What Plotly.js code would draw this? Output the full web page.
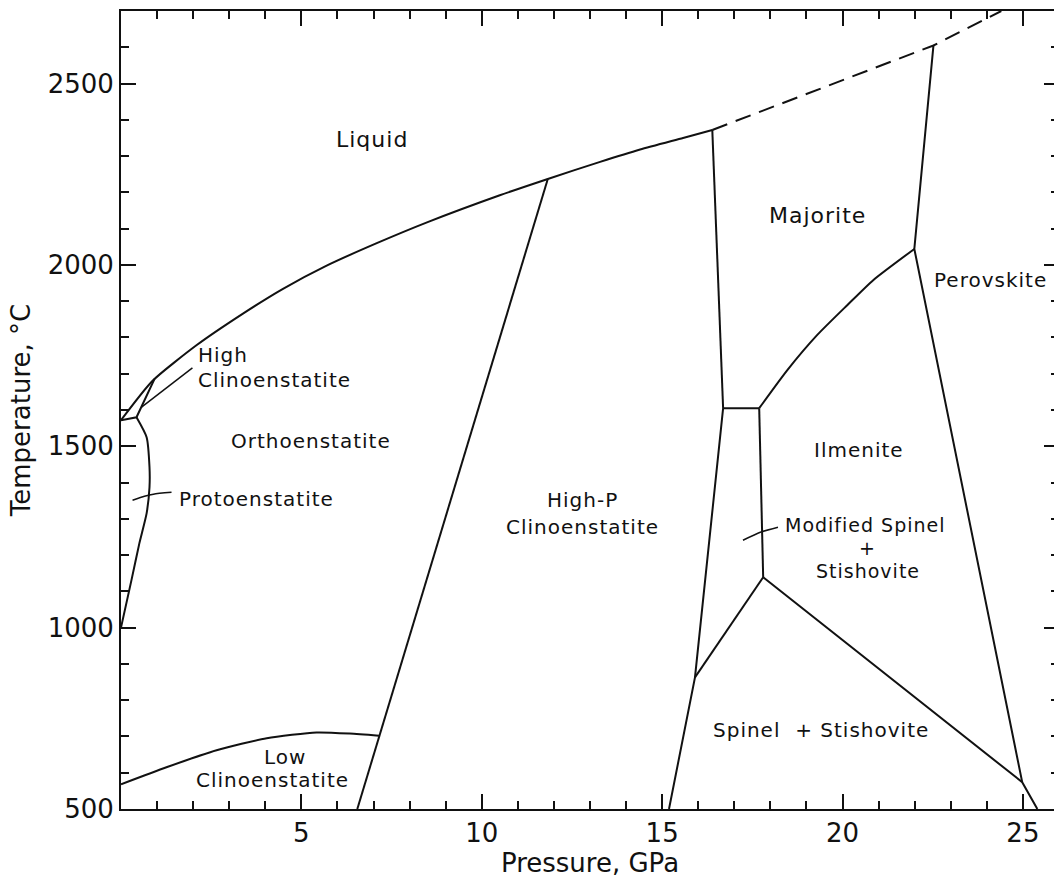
<!DOCTYPE html>
<html>
<head>
<meta charset="utf-8">
<script src="https://cdn.plot.ly/plotly-3.0.1.min.js"></script>
<style>
  html, body { margin: 0; padding: 0; overflow: hidden; background: #fff; }
  #chart { width: 1062px; height: 878px; }
  .annotation-text { letter-spacing: 1px; }
</style>
</head>
<body>
<div id="chart"></div>
<script>
// ---- Phase boundaries of MgSiO3 (Pressure in GPa, Temperature in °C) ----
const meltP = [0, 0.87, 2.1, 3.37, 4.49, 5.7, 7.09, 8.5, 10.5, 11.83, 13.28, 14.39, 15.58, 16.39];
const meltT = [1572, 1680, 1779, 1865, 1934, 1998, 2060, 2118, 2192, 2237, 2284, 2318, 2350, 2372];

const meltDashP = [16.39, 22.52, 24.4];
const meltDashT = [2372, 2605, 2700];

const highClinoP = [0, 0.43, 0.93];
const highClinoT = [1572, 1580, 1686];

const protoP = [0.43, 0.71, 0.79, 0.79, 0.71, 0.51, 0.29, 0];
const protoT = [1580, 1525, 1442, 1387, 1315, 1233, 1131, 1000];

const lowClinoP = [0, 1.26, 2.65, 4.04, 5.42, 6.34, 7.15];
const lowClinoT = [568, 615, 662, 695, 711, 708, 702];

const orthoHpP = [6.55, 11.83];
const orthoHpT = [500, 2237];

const majLeftP = [16.39, 16.69];
const majLeftT = [2372, 1605];

const modTopP = [16.69, 17.69];
const modTopT = [1605, 1605];

const modLeftP = [16.69, 15.91, 15.19];
const modLeftT = [1605, 863, 500];

const modRightP = [17.69, 17.80];
const modRightT = [1605, 1139];

const spinelModP = [15.91, 17.80];
const spinelModT = [863, 1139];

const spinelIlmP = [17.80, 24.98, 25.40];
const spinelIlmT = [1139, 574, 500];

const perovP = [22.52, 21.99, 24.98];
const perovT = [2605, 2044, 574];

const majIlmP = [17.69, 18.47, 19.30, 20.13, 20.85, 21.99];
const majIlmT = [1605, 1710, 1807, 1889, 1958, 2044];

// label leader lines
const leadHighClinoP = [0.57, 1.98];
const leadHighClinoT = [1608, 1716];
const leadProtoP = [0.32, 0.65, 0.9, 1.4];
const leadProtoT = [1351, 1362, 1368, 1373];
const leadModP = [17.24, 17.72, 18.21];
const leadModT = [1241, 1263, 1277];

// ---- region labels ----
const labelText = ['Liquid', 'Majorite', 'Perovskite', 'Ilmenite', 'Orthoenstatite',
  'High', 'Clinoenstatite', 'Protoenstatite', 'High-P', 'Clinoenstatite',
  'Modified Spinel', '+', 'Stishovite', 'Spinel\u00a0\u00a0+ Stishovite', 'Low', 'Clinoenstatite'];
const labelP = [6.95, 19.30, 24.10, 20.45, 5.27, 2.12, 2.12, 1.57, 12.78, 12.78, 20.65, 20.68, 20.71, 19.41, 4.55, 4.20];
const labelT = [2347, 2135, 1958, 1489, 1514, 1751, 1682, 1354, 1351, 1277, 1283, 1219, 1155, 719, 642, 579];

// ---- axis ticks ----
const xTickVals = [5, 10, 15, 20, 25];
const xTickText = ['5', '10', '15', '20', '25'];
const yTickVals = [500, 1000, 1500, 2000, 2500];
const yTickText = ['500', '1000', '1500', '2000', '2500'];

// ---- styling (kept apart from the data) ----
const INK = '#111';
const FONT = 'DejaVu Sans, Arial, sans-serif';
const labelStyle = [
  { size: 22 }, { size: 22 }, { size: 20 }, { size: 20 }, { size: 20 },
  { size: 20, anchor: 'left' }, { size: 20, anchor: 'left' }, { size: 20, anchor: 'left' },
  { size: 20 }, { size: 20 },
  { size: 19 }, { size: 19 }, { size: 19 }, { size: 20 }, { size: 20 }, { size: 20 }
];

function boundary(x, y, opts) {
  opts = opts || {};
  return {
    type: 'scatter', mode: 'lines', x: x, y: y,
    line: { color: INK, width: opts.width || 2, shape: opts.shape || 'linear', dash: opts.dash || 'solid', smoothing: 0.6 },
    hoverinfo: 'skip', showlegend: false
  };
}

const traces = [
  boundary(meltP, meltT, { shape: 'spline' }),
  boundary(meltDashP, meltDashT, { dash: '16px,9px' }),
  boundary(highClinoP, highClinoT),
  boundary(protoP, protoT, { shape: 'spline' }),
  boundary(lowClinoP, lowClinoT, { shape: 'spline' }),
  boundary(orthoHpP, orthoHpT),
  boundary(majLeftP, majLeftT),
  boundary(modTopP, modTopT),
  boundary(modLeftP, modLeftT),
  boundary(modRightP, modRightT),
  boundary(spinelModP, spinelModT),
  boundary(spinelIlmP, spinelIlmT),
  boundary(perovP, perovT),
  boundary(majIlmP, majIlmT, { shape: 'spline' }),
  boundary(leadHighClinoP, leadHighClinoT, { width: 1.5 }),
  boundary(leadProtoP, leadProtoT, { width: 1.5, shape: 'spline' }),
  boundary(leadModP, leadModT, { width: 1.5, shape: 'spline' })
];

const annotations = labelText.map((t, i) => ({
  text: t, x: labelP[i], y: labelT[i], xref: 'x', yref: 'y',
  xanchor: labelStyle[i].anchor || 'center', yanchor: 'middle', showarrow: false,
  borderpad: 0,
  font: { family: FONT, size: labelStyle[i].size, color: INK }
}));

const axisCommon = {
  showline: true, linewidth: 2, linecolor: INK, mirror: 'allticks',
  ticks: 'inside', ticklen: 15, tickwidth: 2, tickcolor: INK,
  showgrid: false, zeroline: false, fixedrange: true,
  tickfont: { family: FONT, size: 26, color: INK }
};

const layout = {
  width: 1062, height: 878,
  margin: { l: 121, r: 3, t: 11, b: 69 },
  paper_bgcolor: '#fff', plot_bgcolor: '#fff',
  showlegend: false,
  xaxis: Object.assign({}, axisCommon, {
    range: [0, 26], tickmode: 'array', tickvals: xTickVals, ticktext: xTickText,
    minor: { tickmode: 'linear', tick0: 0, dtick: 1, ticks: 'inside', ticklen: 8, tickwidth: 2, tickcolor: INK, showgrid: false },
    title: { text: 'Pressure, GPa', font: { family: FONT, size: 26, color: INK }, standoff: 4 }
  }),
  yaxis: Object.assign({}, axisCommon, {
    range: [500, 2700], tickmode: 'array', tickvals: yTickVals, ticktext: yTickText,
    minor: { tickmode: 'linear', tick0: 500, dtick: 100, ticks: 'inside', ticklen: 8, tickwidth: 2, tickcolor: INK, showgrid: false },
    title: { text: 'Temperature, °C', font: { family: FONT, size: 26, color: INK }, standoff: 10 }
  }),
  annotations: annotations
};

Plotly.newPlot('chart', traces, layout, { staticPlot: true, displayModeBar: false });
</script>
</body>
</html>
